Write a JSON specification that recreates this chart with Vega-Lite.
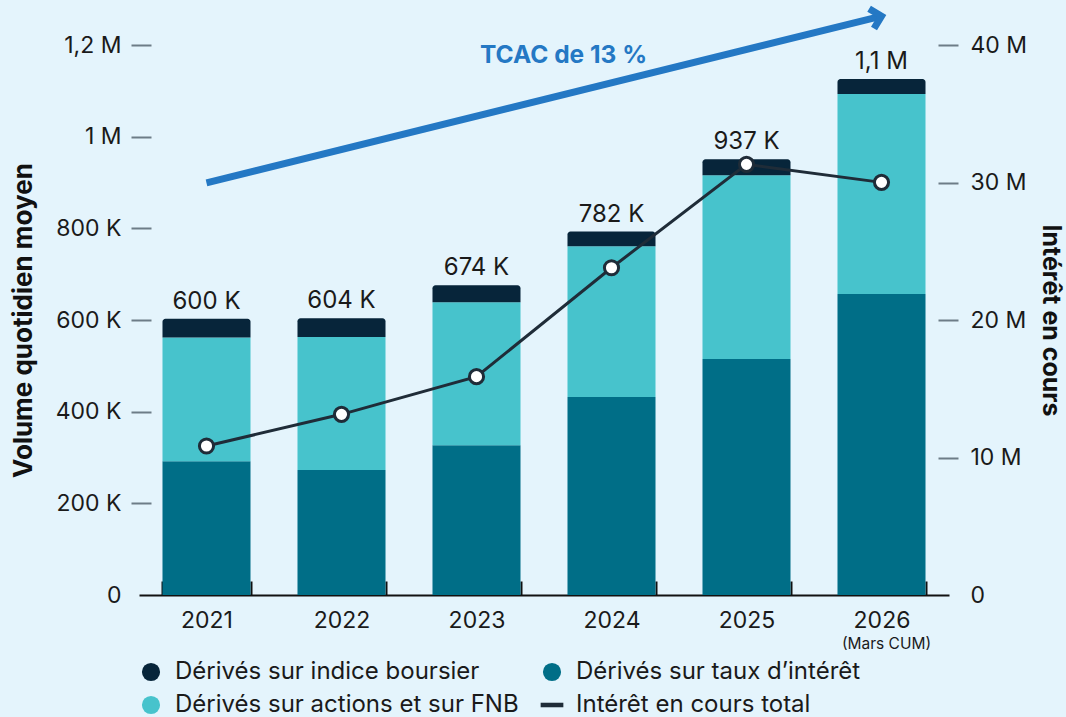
{
  "$schema": "https://vega.github.io/schema/vega-lite/v6.json",
  "width": 810,
  "height": 550,
  "autosize": {"type": "none"},
  "padding": {"left": 139, "top": 45, "right": 117, "bottom": 122},
  "background": "#e4f4fc",
  "config": {
    "view": {"stroke": null},
    "font": "Inter",
    "axis": {"labelFont": "Inter", "titleFont": "Inter", "grid": false},
    "legend": {"labelFont": "Inter"},
    "text": {"font": "Inter"}
  },
  "datasets": {
    "bars": [
      {"year": "2021", "series": "Dérivés sur taux d’intérêt", "value": 292000},
      {"year": "2021", "series": "Dérivés sur actions et sur FNB", "value": 270000},
      {"year": "2021", "series": "Dérivés sur indice boursier", "value": 41000},
      {"year": "2022", "series": "Dérivés sur taux d’intérêt", "value": 273000},
      {"year": "2022", "series": "Dérivés sur actions et sur FNB", "value": 290000},
      {"year": "2022", "series": "Dérivés sur indice boursier", "value": 41000},
      {"year": "2023", "series": "Dérivés sur taux d’intérêt", "value": 327000},
      {"year": "2023", "series": "Dérivés sur actions et sur FNB", "value": 312000},
      {"year": "2023", "series": "Dérivés sur indice boursier", "value": 37000},
      {"year": "2024", "series": "Dérivés sur taux d’intérêt", "value": 432000},
      {"year": "2024", "series": "Dérivés sur actions et sur FNB", "value": 329000},
      {"year": "2024", "series": "Dérivés sur indice boursier", "value": 32000},
      {"year": "2025", "series": "Dérivés sur taux d’intérêt", "value": 515000},
      {"year": "2025", "series": "Dérivés sur actions et sur FNB", "value": 401000},
      {"year": "2025", "series": "Dérivés sur indice boursier", "value": 35000},
      {"year": "2026", "series": "Dérivés sur taux d’intérêt", "value": 657000},
      {"year": "2026", "series": "Dérivés sur actions et sur FNB", "value": 436000},
      {"year": "2026", "series": "Dérivés sur indice boursier", "value": 33000}
    ],
    "totals": [
      {"year": "2021", "total": 603000, "label": "600 K", "interest": 10840000},
      {"year": "2022", "total": 604000, "label": "604 K", "interest": 13140000},
      {"year": "2023", "total": 676000, "label": "674 K", "interest": 15880000},
      {"year": "2024", "total": 793000, "label": "782 K", "interest": 23800000},
      {"year": "2025", "total": 951000, "label": "937 K", "interest": 31320000},
      {"year": "2026", "total": 1126000, "label": "1,1 M", "interest": 30010000}
    ],
    "arrow": [
      {"year": "2021", "v": 899000},
      {"year": "2026", "v": 1263000}
    ]
  },
  "encoding": {
    "x": {
      "field": "year",
      "type": "nominal",
      "scale": {"paddingInner": 0.348, "paddingOuter": 0.174},
      "axis": {
        "title": null,
        "labelAngle": 0,
        "labelFontSize": 23,
        "labelColor": "#1a1a1a",
        "labelPadding": 28,
        "tickBand": "extent",
        "tickSize": -14,
        "tickWidth": 2,
        "tickColor": "#111111",
        "domainColor": "#111111",
        "domainWidth": 2
      }
    }
  },
  "layer": [
    {
      "layer": [
        {
          "data": {"name": "bars"},
          "transform": [
            {"stack": "value", "groupby": ["year"], "as": ["v0", "v1"]},
            {"filter": "datum.series !== 'Dérivés sur indice boursier'"}
          ],
          "mark": {"type": "bar"},
          "encoding": {
            "y": {
              "field": "v0",
              "type": "quantitative",
              "scale": {"domain": [0, 1200000], "nice": false},
              "axis": {
                "title": "Volume quotidien moyen",
                "titleFontSize": 26,
                "titleFontWeight": "bold",
                "titleColor": "#111111",
                "titlePadding": 19,
                "values": [0, 200000, 400000, 600000, 800000, 1000000, 1200000],
                "labelExpr": "datum.value === 0 ? '0' : datum.value >= 1000000 ? replace(format(datum.value / 1000000, '.1~f'), '.', ',') + ' M' : format(datum.value / 1000, 'd') + ' K'",
                "labelFontSize": 23,
                "labelColor": "#1a1a1a",
                "labelPadding": 10,
                "domain": false,
                "offset": -12,
                "tickSize": 20,
                "tickWidth": 2,
                "tickColor": "#6d7c87",
                "tickOpacity": {"condition": {"test": "datum.value === 0", "value": 0}, "value": 1}
              }
            },
            "y2": {"field": "v1"},
            "color": {
              "field": "series",
              "type": "nominal",
              "scale": {
                "domain": ["Dérivés sur indice boursier", "Dérivés sur taux d’intérêt", "Dérivés sur actions et sur FNB", "Intérêt en cours total"],
                "range": ["#07253a", "#006e87", "#47c3cc", "#1f2c38"]
              },
              "legend": {
                "title": null,
                "orient": "none",
                "legendX": 0,
                "legendY": 615,
                "columns": 2,
                "direction": "horizontal",
                "padding": 0,
                "symbolSize": 330,
                "symbolStrokeWidth": 0,
                "labelFontSize": 24,
                "labelColor": "#1a1a1a",
                "labelOffset": 12,
                "labelLimit": 500,
                "columnPadding": 21,
                "rowPadding": 9,
                "encode": {
                  "symbols": {
                    "update": {
                      "shape": {"signal": "datum.value === 'Intérêt en cours total' ? 'M-1.25,-0.25H1.25V0.25H-1.25Z' : 'circle'"},
                      "fill": {"signal": "scale('color', datum.value)"},
                      "strokeWidth": {"value": 0},
                      "opacity": {"value": 1}
                    }
                  }
                }
              }
            }
          }
        },
        {
          "data": {"name": "bars"},
          "transform": [
            {"stack": "value", "groupby": ["year"], "as": ["v0", "v1"]},
            {"filter": "datum.series === 'Dérivés sur indice boursier'"}
          ],
          "mark": {"type": "bar", "cornerRadiusTopLeft": 3, "cornerRadiusTopRight": 3},
          "encoding": {
            "y": {"field": "v0", "type": "quantitative"},
            "y2": {"field": "v1"},
            "color": {"field": "series", "type": "nominal"}
          }
        },
        {
          "data": {"name": "totals"},
          "mark": {"type": "text", "fontSize": 24, "color": "#1a1a1a", "baseline": "alphabetic", "dy": -10},
          "encoding": {
            "y": {"field": "total", "type": "quantitative"},
            "text": {"field": "label"}
          }
        },
        {
          "data": {"values": [{"year": "2026", "note": "(Mars CUM)"}]},
          "mark": {"type": "text", "fontSize": 15.5, "color": "#1a1a1a", "baseline": "middle", "dy": 49, "dx": 5},
          "encoding": {
            "y": {"datum": 0, "type": "quantitative"},
            "text": {"field": "note"}
          }
        },
        {
          "data": {"name": "arrow"},
          "mark": {"type": "line", "color": "#2478c4", "strokeWidth": 7, "strokeCap": "butt"},
          "encoding": {
            "y": {"field": "v", "type": "quantitative"}
          }
        },
        {
          "data": {"values": [{"year": "2026", "v": 1263000}]},
          "mark": {"type": "point", "shape": "M-1,-1L0,0L-1,1", "filled": false, "stroke": "#2478c4", "strokeWidth": 7, "size": 420, "angle": -13.86, "opacity": 1, "strokeJoin": "miter"},
          "encoding": {
            "y": {"field": "v", "type": "quantitative"}
          }
        },
        {
          "data": {"values": [{"year": "2024", "t": "TCAC de 13 %", "v": 1176000}]},
          "mark": {"type": "text", "fontSize": 24.5, "fontWeight": "bold", "color": "#2478c4", "baseline": "middle", "align": "center", "dx": -48},
          "encoding": {
            "y": {"field": "v", "type": "quantitative"},
            "text": {"field": "t"}
          }
        }
      ]
    },
    {
      "layer": [
        {
          "data": {"name": "totals"},
          "mark": {"type": "line", "strokeWidth": 3},
          "encoding": {
            "y": {
              "field": "interest",
              "type": "quantitative",
              "scale": {"domain": [0, 40000000], "nice": false},
              "axis": {
                "orient": "right",
                "title": "Intérêt en cours",
                "titleFontSize": 25,
                "titleFontWeight": "bold",
                "titleColor": "#111111",
                "titlePadding": 11,
                "values": [0, 10000000, 20000000, 30000000, 40000000],
                "labelExpr": "datum.value === 0 ? '0' : format(datum.value / 1000000, 'd') + ' M'",
                "labelFontSize": 23,
                "labelColor": "#1a1a1a",
                "labelPadding": 12,
                "domain": false,
                "offset": -11,
                "tickSize": 20,
                "tickWidth": 2,
                "tickColor": "#6d7c87",
                "tickOpacity": {"condition": {"test": "datum.value === 0", "value": 0}, "value": 1}
              }
            },
            "color": {"datum": "Intérêt en cours total", "type": "nominal"}
          }
        },
        {
          "data": {"name": "totals"},
          "mark": {"type": "point", "filled": true, "fill": "#ffffff", "stroke": "#1f2c38", "strokeWidth": 3, "size": 200, "opacity": 1},
          "encoding": {
            "y": {"field": "interest", "type": "quantitative"}
          }
        }
      ]
    }
  ],
  "resolve": {"scale": {"y": "independent"}}
}
